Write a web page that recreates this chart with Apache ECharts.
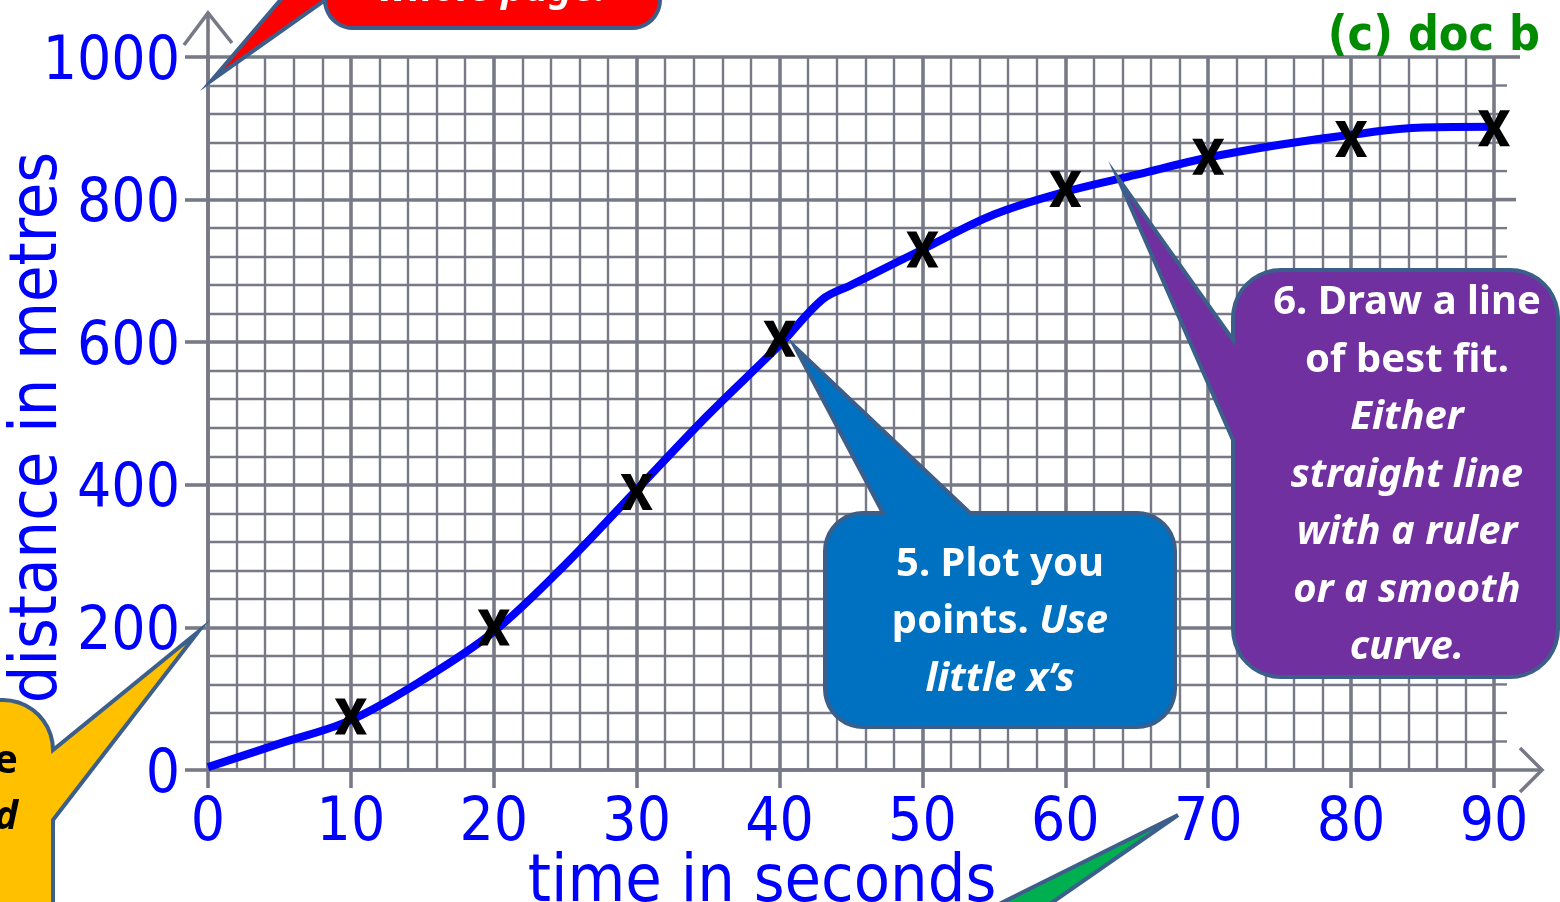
<!DOCTYPE html>
<html>
<head>
<meta charset="utf-8">
<script src="https://cdn.jsdelivr.net/npm/echarts@6/dist/echarts.min.js"></script>
<style>
html,body{margin:0;padding:0;background:#fff;}
#c{width:1560px;height:902px;}
</style>
</head>
<body>
<div id="c"></div>
<script>
// ---- data ----
const pointTime = [10, 20, 30, 40, 50, 60, 70, 80, 90];
const pointDistance = [75, 200, 390, 605, 730, 815, 860, 885, 900];
const curveTime = [0, 5, 10, 15, 20, 25, 30, 35, 40, 43, 45, 50, 55, 60, 65, 70, 75, 80, 85, 90];
const curveDistance = [4, 37, 70, 126, 194, 288, 393, 498, 596, 660, 680, 730, 779, 811, 835, 859, 877, 891, 901, 902];
const xTicks = [0, 10, 20, 30, 40, 50, 60, 70, 80, 90];
const yTicks = [0, 200, 400, 600, 800, 1000];
const xTitle = 'time in seconds';
const yTitle = 'distance in metres';
const copyright = '(c) doc b';

const GRID = '#777a86';
const BLUE = '#0000FF';
const NARROW = "'Liberation Sans Narrow', 'DejaVu Sans Condensed', sans-serif";
const COND = "'DejaVu Sans Condensed', 'DejaVu Sans', sans-serif";
const CALLOUT_FONT = "'Noto Sans', 'Open Sans', sans-serif";
const X_MARK = 'path://M0,0 L31,0 L50,34 L69,0 L100,0 L67,50 L100,100 L69,100 L50,66 L31,100 L0,100 L33,50 Z';

const chart = echarts.init(document.getElementById('c'), null, {renderer: 'canvas', width: 1560, height: 902});

const axisCommon = {
  type: 'value',
  axisLine: {show: true, lineStyle: {color: GRID, width: 3.6}},
  splitLine: {show: true, lineStyle: {color: GRID, width: 3.6}},
  minorTick: {show: false, splitNumber: 5},
  minorSplitLine: {show: true, lineStyle: {color: GRID, width: 2.4}},
  axisLabel: {color: BLUE, fontFamily: NARROW, fontSize: 60}
};

chart.setOption({
  animation: false,
  backgroundColor: '#fff',
  grid: {left: 208, top: 57, right: 66, bottom: 132, containLabel: false, outerBoundsMode: 'none'},
  xAxis: Object.assign({}, axisCommon, {
    min: 0, max: 90, interval: 10,
    axisTick: {show: true, length: 18, lineStyle: {color: GRID, width: 3.6}},
    axisLabel: Object.assign({}, axisCommon.axisLabel, {
      margin: 24,
      formatter: v => xTicks.includes(v) ? String(v) : ''
    }),
    name: xTitle, nameLocation: 'middle', nameGap: 81, nameMoveOverlap: false,
    nameTextStyle: {color: BLUE, fontFamily: COND, fontSize: 66, padding: [0, 178, 0, 0]}
  }),
  yAxis: Object.assign({}, axisCommon, {
    min: 0, max: 1000, interval: 200,
    axisTick: {show: true, length: 23, lineStyle: {color: GRID, width: 3.6}},
    axisLabel: Object.assign({}, axisCommon.axisLabel, {
      margin: 28,
      formatter: v => yTicks.includes(v) ? '{n|' + v + '}' : '',
      rich: {n: {color: BLUE, fontFamily: NARROW, fontSize: 60, padding: [12, 0, 0, 0]}}
    }),
    name: yTitle, nameLocation: 'middle', nameGap: 136, nameRotate: 90, nameMoveOverlap: false,
    nameTextStyle: {color: BLUE, fontFamily: COND, fontSize: 66, padding: [0, 28, 0, 0]}
  }),
  series: [
    {
      type: 'line',
      data: curveTime.map((t, i) => [t, curveDistance[i]]),
      smooth: 0.35,
      symbol: 'none',
      lineStyle: {color: BLUE, width: 8},
      z: 3
    },
    {
      type: 'scatter',
      data: pointTime.map((t, i) => [t, pointDistance[i]]),
      symbol: X_MARK,
      symbolSize: [32, 36],
      symbolKeepAspect: false,
      itemStyle: {color: '#000', opacity: 1},
      z: 5
    }
  ]
});

function px(x, y) { return chart.convertToPixel({gridIndex: 0}, [x, y]); }

function arc(cx, cy, r, a0, a1) {
  const pts = [];
  const n = 10;
  for (let i = 0; i <= n; i++) {
    const a = (a0 + (a1 - a0) * i / n) * Math.PI / 180;
    pts.push([cx + r * Math.cos(a), cy + r * Math.sin(a)]);
  }
  return pts;
}
// rounded rectangle outline (clockwise from top-left), with optional pointer inserts on top or left edge
function calloutPoints(x0, y0, x1, y1, r, topInsert, leftInsert) {
  let pts = [];
  pts = pts.concat(topInsert || []);
  pts = pts.concat(arc(x1 - r, y0 + r, r, -90, 0));
  pts = pts.concat(arc(x1 - r, y1 - r, r, 0, 90));
  pts = pts.concat(arc(x0 + r, y1 - r, r, 90, 180));
  pts = pts.concat(leftInsert || []);
  pts = pts.concat(arc(x0 + r, y0 + r, r, 180, 270));
  return pts;
}

const BORDER = '#3b5e8a';
const els = [];

// horizontal grid line extensions past the last vertical line
const [x90] = px(90, 0);
for (let v = 40; v <= 1000; v += 40) {
  const py = px(90, v)[1];
  const major = v % 200 === 0;
  const ext = v === 1000 ? 26 : (major ? 22 : 13);
  els.push({type: 'line', z: 1, shape: {x1: x90, y1: py, x2: x90 + ext, y2: py},
    style: {stroke: GRID, lineWidth: major ? 3.6 : 2.4}});
}
// x axis arrow
const [ox, oy] = px(0, 0);
els.push({type: 'line', z: 1, shape: {x1: x90, y1: oy, x2: x90 + 48, y2: oy}, style: {stroke: GRID, lineWidth: 3.6}});
els.push({type: 'polyline', z: 1, shape: {points: [[x90 + 26, oy - 22], [x90 + 48, oy], [x90 + 26, oy + 22]]},
  style: {stroke: GRID, lineWidth: 3.6, fill: null}});
// y axis arrow
const topY = px(0, 1000)[1];
els.push({type: 'line', z: 1, shape: {x1: ox, y1: topY, x2: ox, y2: topY - 45}, style: {stroke: GRID, lineWidth: 3.6}});
els.push({type: 'polyline', z: 1, shape: {points: [[ox - 24, topY - 12], [ox, topY - 44], [ox + 24, topY - 14]]},
  style: {stroke: GRID, lineWidth: 3.6, fill: null}});

// copyright
els.push({type: 'text', z: 10, x: 1540, y: 62,
  style: {text: copyright, fill: '#008C00', fontFamily: COND, fontWeight: 'bold', fontSize: 48,
    align: 'right', verticalAlign: 'bottom'}});

// red callout (top, mostly off-page)
const redPts = [].concat(
  arc(632, -52, 28, -90, 0), arc(632, 0, 28, 0, 90), arc(353, 0, 28, 90, 180),
  [[212, 80], [306, -30], [325, -52]], arc(353, -52, 28, 180, 270));
els.push({type: 'polygon', z: 20, shape: {points: redPts},
  style: {fill: '#FF0000', stroke: BORDER, lineWidth: 4}});
els.push({type: 'text', z: 23, x: 492, y: -10,
  style: {text: 'whole page.', fill: '#fff', fontFamily: CALLOUT_FONT, fontWeight: 'bold', fontStyle: 'italic',
    fontSize: 40, align: 'center', verticalAlign: 'middle'}});

// yellow callout (bottom left, mostly off-page)
const yellowPts = [[-100, 700], [3, 700]].concat(arc(3, 750, 50, -90, 0), [[198, 632], [53, 820], [53, 1000], [-100, 1000]]);
els.push({type: 'polygon', z: 20, shape: {points: yellowPts},
  style: {fill: '#FFC000', stroke: BORDER, lineWidth: 4}});
els.push({type: 'text', z: 23, x: 18, y: 762,
  style: {text: 'e', fill: '#000', fontFamily: CALLOUT_FONT, fontWeight: 'bold', fontSize: 40,
    align: 'right', verticalAlign: 'middle'}});
els.push({type: 'text', z: 23, x: 18, y: 818,
  style: {text: 'd', fill: '#000', fontFamily: CALLOUT_FONT, fontWeight: 'bold', fontStyle: 'italic', fontSize: 40,
    align: 'right', verticalAlign: 'middle'}});

// green pointer (bottom)
els.push({type: 'polygon', z: 20, shape: {points: [[1178, 815], [967, 920], [1027, 920]]},
  style: {fill: '#00B050', stroke: BORDER, lineWidth: 4}});

// blue callout
els.push({type: 'polygon', z: 20,
  shape: {points: calloutPoints(825, 513, 1175, 727, 38, [[883, 513], [795, 347], [970, 513]], null)},
  style: {fill: '#0070C0', stroke: BORDER, lineWidth: 4}});
const richStyles = {
  b: {fill: '#fff', fontFamily: CALLOUT_FONT, fontWeight: 'bold', fontSize: 40, lineHeight: 57.5},
  bi: {fill: '#fff', fontFamily: CALLOUT_FONT, fontWeight: 'bold', fontStyle: 'italic', fontSize: 40, lineHeight: 57.5}
};
els.push({type: 'text', z: 23, x: 1000, y: 622,
  style: {text: '{b|5. Plot you}\n{b|points. }{bi|Use}\n{bi|little x\u2019s}', rich: richStyles,
    align: 'center', verticalAlign: 'middle'}});

// purple callout
els.push({type: 'polygon', z: 20,
  shape: {points: calloutPoints(1233, 270, 1558, 677, 48, null, [[1233, 440], [1118, 178], [1233, 340]])},
  style: {fill: '#7030A0', stroke: BORDER, lineWidth: 4}});
els.push({type: 'text', z: 23, x: 1407, y: 475.5,
  style: {text: '{b|6. Draw a line}\n{b|of best fit.}\n{bi|Either}\n{bi|straight line}\n{bi|with a ruler}\n{bi|or a smooth}\n{bi|curve.}',
    rich: richStyles, align: 'center', verticalAlign: 'middle'}});

chart.setOption({graphic: {elements: els}});
</script>
</body>
</html>
